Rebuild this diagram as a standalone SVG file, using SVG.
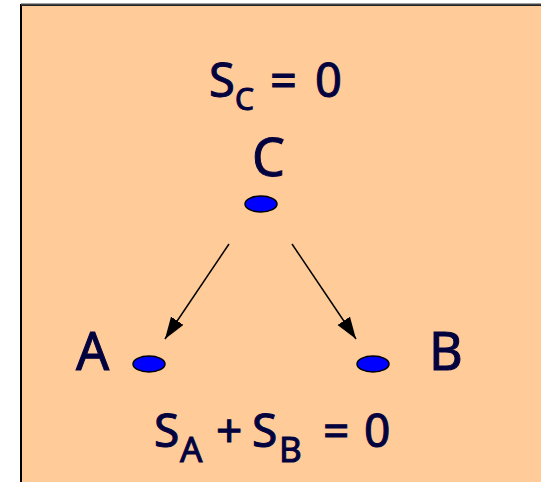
<svg xmlns="http://www.w3.org/2000/svg" width="541" height="482" viewBox="0 0 541 482">
<style>
.t{font-family:"Noto Sans","Open Sans",sans-serif;fill:#02023f;stroke:#02023f;stroke-width:1}
.node ellipse{fill:#0000ff;stroke:#000;stroke-width:1.5}
.edge{stroke:#000;stroke-width:1.5;fill:none}
</style>
<defs>
<marker id="ah" markerUnits="userSpaceOnUse" markerWidth="24" markerHeight="16" refX="22" refY="7.5" orient="auto" viewBox="0 0 24 16">
<path d="M0,0 L22,7.5 L0,15 Z" fill="#000"/>
</marker>
</defs>
<rect x="21" y="5" width="530" height="490" fill="#ffcb99" stroke="#000" stroke-width="2"/>
<line x1="21" y1="4.5" x2="541" y2="4.5" stroke="#444" stroke-width="2"/>
<g id="eq-top">
<text x="209" y="97" font-size="47" class="t">S</text>
<text x="235" y="110" font-size="30" class="t">C</text>
<text x="270" y="97" font-size="47" class="t">=</text>
<text x="315" y="97" font-size="47" class="t">0</text>
</g>
<g id="node-C" class="node">
<text x="252" y="176" font-size="52" class="t">C</text>
<ellipse cx="261" cy="204" rx="16" ry="8"/>
</g>
<g id="node-A" class="node">
<text x="76" y="370" font-size="52" class="t">A</text>
<ellipse cx="149" cy="364" rx="16" ry="8"/>
</g>
<g id="node-B" class="node">
<text x="429" y="370" font-size="52" class="t">B</text>
<ellipse cx="373" cy="364" rx="16" ry="8"/>
</g>
<g id="connectors">
<line class="edge" x1="229" y1="244" x2="165" y2="339" marker-end="url(#ah)"/>
<line class="edge" x1="292" y1="244" x2="356" y2="339" marker-end="url(#ah)"/>
</g>
<g id="eq-bottom">
<text x="154" y="447" font-size="46" class="t">S</text>
<text x="180" y="462" font-size="35" class="t">A</text>
<text x="216" y="447" font-size="46" class="t">+</text>
<text x="252" y="447" font-size="46" class="t">S</text>
<text x="279" y="462" font-size="35" class="t">B</text>
<text x="323" y="447" font-size="46" class="t">=</text>
<text x="364" y="447" font-size="46" class="t">0</text>
</g>
</svg>
